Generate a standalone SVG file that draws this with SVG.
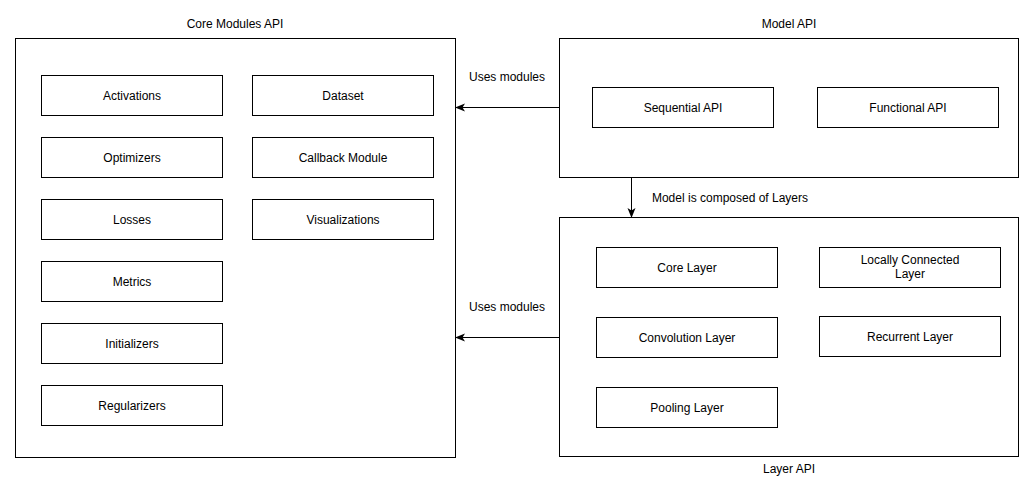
<svg xmlns="http://www.w3.org/2000/svg" width="1034" height="494" viewBox="0 0 1034 494">
<defs>
<style>
.box{fill:#fff;stroke:#000;stroke-width:1}
.t{font-family:"Liberation Sans",Arial,sans-serif;font-size:12px;fill:#000;text-anchor:middle;dominant-baseline:central}
.edge{stroke:#000;stroke-width:1;fill:none}
</style>
<marker id="arr" viewBox="0 0 10 10" refX="9" refY="5" markerWidth="10" markerHeight="10" markerUnits="userSpaceOnUse" orient="auto">
<path d="M0,1 L10,5 L0,9 L2.5,5 Z" fill="#000"/>
</marker>
</defs>
<rect width="1034" height="494" fill="#fff"/>
<g id="core-modules-api">
<rect class="box" x="15.5" y="38.5" width="440" height="419"/>
<text class="t" x="235" y="24">Core Modules API</text>
</g>
<g id="activations"><rect class="box" x="41.5" y="75.5" width="181" height="40"/><text class="t" x="132" y="96">Activations</text></g>
<g id="optimizers"><rect class="box" x="41.5" y="137.5" width="181" height="40"/><text class="t" x="132" y="158">Optimizers</text></g>
<g id="losses"><rect class="box" x="41.5" y="199.5" width="181" height="40"/><text class="t" x="132" y="220">Losses</text></g>
<g id="metrics"><rect class="box" x="41.5" y="261.5" width="181" height="40"/><text class="t" x="132" y="282">Metrics</text></g>
<g id="initializers"><rect class="box" x="41.5" y="323.5" width="181" height="40"/><text class="t" x="132" y="344">Initializers</text></g>
<g id="regularizers"><rect class="box" x="41.5" y="385.5" width="181" height="40"/><text class="t" x="132" y="406">Regularizers</text></g>
<g id="dataset"><rect class="box" x="252.5" y="75.5" width="181" height="40"/><text class="t" x="343" y="96">Dataset</text></g>
<g id="callback-module"><rect class="box" x="252.5" y="137.5" width="181" height="40"/><text class="t" x="343" y="158">Callback Module</text></g>
<g id="visualizations"><rect class="box" x="252.5" y="199.5" width="181" height="40"/><text class="t" x="343" y="220">Visualizations</text></g>

<g id="model-api">
<rect class="box" x="559.5" y="38.5" width="459" height="139"/>
<text class="t" x="789" y="24">Model API</text>
</g>
<g id="sequential-api"><rect class="box" x="592.5" y="87.5" width="181" height="40"/><text class="t" x="683" y="108">Sequential API</text></g>
<g id="functional-api"><rect class="box" x="817.5" y="87.5" width="181" height="40"/><text class="t" x="908" y="108">Functional API</text></g>

<g id="layer-api">
<rect class="box" x="559.5" y="217.5" width="459" height="239"/>
<text class="t" x="789" y="469">Layer API</text>
</g>
<g id="core-layer"><rect class="box" x="596.5" y="247.5" width="181" height="40"/><text class="t" x="687" y="268">Core Layer</text></g>
<g id="locally-connected-layer"><rect class="box" x="819.5" y="247.5" width="181" height="40"/><text class="t" x="910" y="260">Locally Connected</text><text class="t" x="910" y="274">Layer</text></g>
<g id="convolution-layer"><rect class="box" x="596.5" y="317.5" width="181" height="40"/><text class="t" x="687" y="338">Convolution Layer</text></g>
<g id="recurrent-layer"><rect class="box" x="819.5" y="316.5" width="181" height="40"/><text class="t" x="910" y="337">Recurrent Layer</text></g>
<g id="pooling-layer"><rect class="box" x="596.5" y="387.5" width="181" height="40"/><text class="t" x="687" y="408">Pooling Layer</text></g>

<g id="connectors">
<line class="edge" x1="559.5" y1="107.5" x2="456" y2="107.5" marker-end="url(#arr)"/>
<text class="t" x="507" y="77">Uses modules</text>
<line class="edge" x1="559.5" y1="337.5" x2="456" y2="337.5" marker-end="url(#arr)"/>
<text class="t" x="507" y="307">Uses modules</text>
<line class="edge" x1="631.5" y1="177.5" x2="631.5" y2="217" marker-end="url(#arr)"/>
<text class="t" x="730" y="198">Model is composed of Layers</text>
</g>
</svg>
